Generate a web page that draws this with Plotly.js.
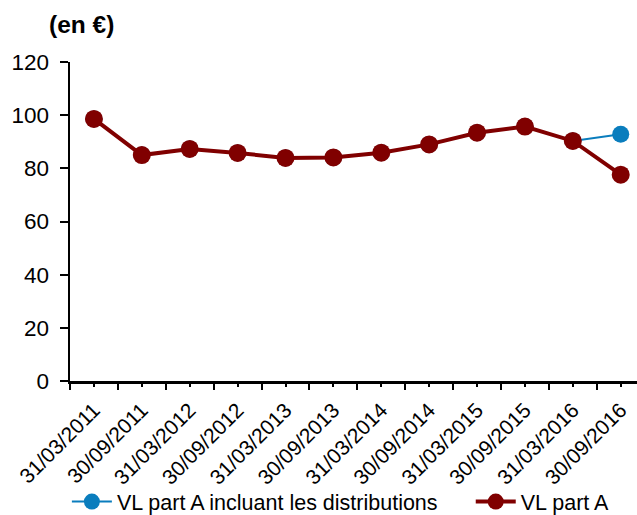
<!DOCTYPE html>
<html>
<head>
<meta charset="utf-8">
<script src="https://cdn.plot.ly/plotly-3.0.1.min.js"></script>
<style>html,body{margin:0;padding:0;background:#fff;}#chart{width:637px;height:515px;}</style>
</head>
<body>
<div id="chart"></div>
<script>
const categories = ["31/03/2011","30/09/2011","31/03/2012","30/09/2012","31/03/2013","30/09/2013","31/03/2014","30/09/2014","31/03/2015","30/09/2015","31/03/2016","30/09/2016"];
const vlPartA = [98.6, 85.0, 87.3, 85.8, 83.9, 84.1, 85.9, 89.0, 93.4, 95.7, 90.3, 77.6];
const vlPartADistrib = [98.6, 85.0, 87.3, 85.8, 83.9, 84.1, 85.9, 89.0, 93.4, 95.7, 90.3, 92.8];
const yTicks = [0, 20, 40, 60, 80, 100, 120];

const idx = categories.map((c, i) => i);
const bounds = categories.map((c, i) => i - 0.5).concat([categories.length - 0.5]);
const FONT = '"Liberation Sans", Arial, sans-serif';

const traces = [
  {
    x: idx, y: vlPartADistrib, type: 'scatter', mode: 'lines+markers',
    name: 'VL part A incluant les distributions', legend: 'legend',
    line: {color: '#0a7dbd', width: 2},
    marker: {color: '#0a7dbd', size: 17},
    text: categories, hoverinfo: 'text+y'
  },
  {
    x: idx, y: vlPartA, type: 'scatter', mode: 'lines+markers',
    name: 'VL part A', legend: 'legend2',
    line: {color: '#800000', width: 4},
    marker: {color: '#800000', size: 18},
    text: categories, hoverinfo: 'text+y'
  }
];

const legendBase = {
  orientation: 'h', xref: 'container', yref: 'container',
  xanchor: 'left', y: 0.026, yanchor: 'middle',
  bgcolor: 'rgba(0,0,0,0)',
  font: {size: 21.5, family: FONT}, itemwidth: 40
};

const layout = {
  width: 637, height: 515,
  margin: {l: 70, r: 0, t: 62, b: 134},
  paper_bgcolor: '#ffffff', plot_bgcolor: '#ffffff',
  font: {family: FONT, color: '#000000'},
  showlegend: true,
  legend: Object.assign({}, legendBase, {x: 0.105}),
  legend2: Object.assign({}, legendBase, {x: 0.739}),
  xaxis: {
    type: 'linear', range: [-0.5, 11.34],
    tickmode: 'array', tickvals: idx, ticktext: categories,
    tickangle: -45, tickfont: {size: 21, family: FONT},
    ticks: 'outside', ticklen: 3, tickwidth: 2, tickcolor: '#000',
    ticklabelstandoff: 3,
    minor: {tickmode: 'array', tickvals: bounds, ticks: 'outside', ticklen: 6, tickwidth: 2, tickcolor: '#000'},
    showline: true, linecolor: '#000', linewidth: 2.5,
    showgrid: false, zeroline: false, fixedrange: true
  },
  yaxis: {
    range: [0, 120], tickmode: 'array', tickvals: yTicks,
    tickfont: {size: 22.5, family: FONT},
    ticks: 'outside', ticklen: 8, tickwidth: 2, tickcolor: '#000',
    ticklabelstandoff: 6,
    showline: true, linecolor: '#000', linewidth: 2.5,
    showgrid: false, zeroline: false, fixedrange: true
  },
  annotations: [{
    text: '<b>(en €)</b>', xref: 'paper', yref: 'paper',
    x: -0.041, xanchor: 'left', y: 1.116, yanchor: 'middle',
    showarrow: false, font: {size: 24.5, family: FONT}
  }]
};

Plotly.newPlot('chart', traces, layout, {displayModeBar: false, staticPlot: true});
</script>
</body>
</html>
